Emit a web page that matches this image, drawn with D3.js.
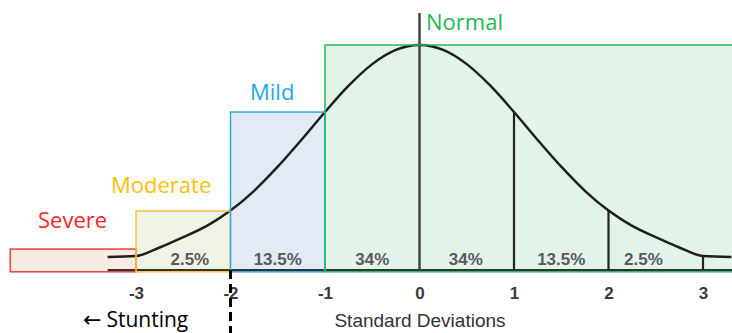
<!DOCTYPE html>
<html lang="en">
<head>
    <meta charset="UTF-8">
    <title>Stunting - Standard Deviations</title>
    <script src="https://d3js.org/d3.v7.min.js"></script>
    <style>
        body { margin: 0; padding: 0; background: #fff; }
        svg { display: block; }
        .tick text { font-family: "Liberation Sans", Arial, sans-serif; }
    </style>
</head>
<body>
    <svg width="732" height="333"></svg>
    <script>
        // curve heights (relative to peak = 1)
        const curveZ = [-3.3, -3, -2.75, -2.5, -2.25, -2, -1.75, -1.5, -1.25, -1, -0.75, -0.5, -0.25, 0,
                        0.25, 0.5, 0.75, 1, 1.25, 1.5, 1.75, 2, 2.25, 2.5, 2.75, 3, 3.3];
        const curveH = [0.058, 0.062, 0.1, 0.146, 0.196, 0.264, 0.352, 0.459, 0.578, 0.702, 0.819, 0.915, 0.978, 1,
                        0.978, 0.915, 0.819, 0.702, 0.578, 0.459, 0.352, 0.264, 0.196, 0.146, 0.1, 0.062, 0.058];

        const sdTicks = [-3, -2, -1, 0, 1, 2, 3];
        const dividers = [1, 2, 3];

        const pctLabels = ["2.5%", "13.5%", "34%", "34%", "13.5%", "2.5%"];
        const pctPos = [-2.43, -1.5, -0.5, 0.49, 1.5, 2.37];

        const groupNames = ["Severe", "Moderate", "Mild", "Normal"];
        const groupStart = [-4.33, -3, -2, -1];
        const groupEnd = [-3, -2, -1, 3.4];
        const groupTop = [0.093, 0.262, 0.702, 1.0];
        const groupStroke = ["#f23d3d", "#f7c23c", "#2ea9df", "#24b85a"];
        const groupFill = ["#fbece3", "#eef3e5", "#e2ebf5", "#e2f3e9"];
        const groupText = ["#ff2424", "#ffc000", "#1fa7e6", "#1db954"];

        const svg = d3.select("svg");
        const x = d3.scaleLinear().domain([-3, 3]).range([136, 703]);
        const y = d3.scaleLinear().domain([0, 1]).range([270, 45]);

        const groups = groupNames.map((name, i) => ({
            name, z0: groupStart[i], z1: groupEnd[i], top: groupTop[i],
            stroke: groupStroke[i], fill: groupFill[i], text: groupText[i]
        }));

        // box fills
        svg.append("g").selectAll("rect")
            .data(groups)
            .join("rect")
            .attr("x", d => x(d.z0))
            .attr("y", d => y(d.top))
            .attr("width", d => x(d.z1) - x(d.z0))
            .attr("height", d => y(-0.008) - y(d.top))
            .attr("fill", d => d.fill);

        // baseline
        svg.append("line")
            .attr("x1", x(-3.3)).attr("x2", 732)
            .attr("y1", y(0)).attr("y2", y(0))
            .attr("stroke", "#333").attr("stroke-width", 2);

        // center line
        svg.append("line")
            .attr("x1", x(0)).attr("x2", x(0))
            .attr("y1", y(1.142)).attr("y2", y(0))
            .attr("stroke", "#444").attr("stroke-width", 2.5);

        // divider lines from curve down to baseline
        const curveAt = z => curveH[curveZ.indexOf(z)];
        svg.append("g").selectAll("line")
            .data(dividers)
            .join("line")
            .attr("x1", d => x(d)).attr("x2", d => x(d))
            .attr("y1", d => y(curveAt(d))).attr("y2", y(0))
            .attr("stroke", "#222").attr("stroke-width", 2.2);

        // bell curve
        const line = d3.line()
            .x((d, i) => x(curveZ[i]))
            .y(d => y(d))
            .curve(d3.curveMonotoneX);
        svg.append("path")
            .attr("d", line(curveH))
            .attr("fill", "none")
            .attr("stroke", "#1e1e1e")
            .attr("stroke-width", 2.5);

        // box outlines
        svg.append("g").selectAll("rect")
            .data(groups)
            .join("rect")
            .attr("x", d => x(d.z0))
            .attr("y", d => y(d.top))
            .attr("width", d => x(d.z1) - x(d.z0))
            .attr("height", d => y(-0.008) - y(d.top))
            .attr("fill", "none")
            .attr("stroke", d => d.stroke)
            .attr("stroke-width", 1.5);

        // percentages
        svg.append("g").selectAll("text")
            .data(pctLabels)
            .join("text")
            .attr("x", (d, i) => x(pctPos[i]))
            .attr("y", 265)
            .attr("text-anchor", "middle")
            .attr("font-family", "Liberation Sans, Arial, sans-serif")
            .attr("font-size", 17)
            .attr("font-weight", "bold")
            .attr("fill", "#5a5a5a")
            .text(d => d);

        // axis
        const axis = svg.append("g")
            .attr("transform", `translate(0,${y(0)})`)
            .call(d3.axisBottom(x).tickValues(sdTicks).tickSize(0).tickPadding(17)
                .tickFormat(d => d < 0 ? "-" + Math.abs(d) : d));
        axis.select(".domain").remove();
        axis.selectAll("text")
            .attr("font-size", 17)
            .attr("font-weight", "bold")
            .attr("fill", "#3a3a3a");

        svg.append("text")
            .attr("x", 420).attr("y", 327)
            .attr("text-anchor", "middle")
            .attr("font-family", "Liberation Sans, Arial, sans-serif")
            .attr("font-size", 19)
            .attr("fill", "#333")
            .text("Standard Deviations");

        // group labels
        const labelX = [38, 111, 250, 426];
        const labelY = [228, 193, 100, 30];
        svg.append("g").selectAll("text")
            .data(groups)
            .join("text")
            .attr("x", (d, i) => labelX[i])
            .attr("y", (d, i) => labelY[i])
            .attr("font-family", "Open Sans, Noto Sans, sans-serif")
            .attr("font-size", 22)
            .attr("fill", d => d.text)
            .text(d => d.name);

        // stunting cut-off
        svg.append("line")
            .attr("x1", x(-2)).attr("x2", x(-2))
            .attr("y1", y(0)).attr("y2", 333)
            .attr("stroke", "#000").attr("stroke-width", 3)
            .attr("stroke-dasharray", "9,5");

        const stunt = svg.append("text")
            .attr("x", 83).attr("y", 327)
            .attr("font-family", "Open Sans, Noto Sans, sans-serif")
            .attr("font-size", 21)
            .attr("fill", "#000");
        stunt.append("tspan")
            .attr("font-family", "DejaVu Sans, sans-serif")
            .attr("font-size", 22)
            .text("←");
        stunt.append("tspan")
            .attr("dx", 5)
            .text("Stunting");
    </script>
</body>
</html>
